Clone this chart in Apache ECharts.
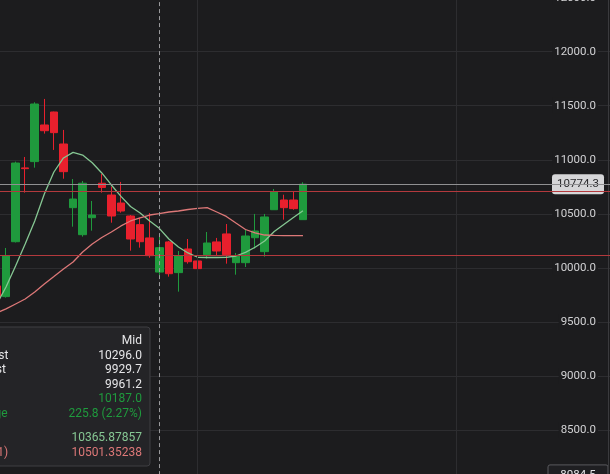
<!DOCTYPE html>
<html><head><meta charset="utf-8">
<script src="https://cdn.jsdelivr.net/npm/echarts@6/dist/echarts.min.js"></script>
<style>html,body{margin:0;padding:0;background:#1c1c1e;overflow:hidden}#c{width:610px;height:474px;}</style>
</head><body><div id="c"></div>
<script>
// ---- data ----
const categories = ['1','2','3','4','5','6','7','8','9','10','11','12','13','14','15','16','17','18','19','20','21','22','23','24','25','26','27','28','29','30','31','32','33'];
const emptySlots = 32; // empty future slots to the right of the last candle
const opens  = [9833, 9734, 10242, 10925, 10983, 11322, 11442, 11146, 10557, 10307, 10464, 10783, 10674, 10600, 10480, 10400, 10277, 9961.2, 10240, 9956, 10175, 10064, 10122, 10240, 10314, 10048, 10048, 10279, 10150, 10538, 10628, 10628, 10446];
const closes = [9734, 10113, 10970, 10918, 11516, 11269, 11251, 10890, 10637, 10783, 10489, 10744, 10480, 10526, 10267, 10242, 10113, 10187.0, 9946, 10113, 10057, 9993, 10230, 10156, 10122, 10113, 10295, 10341, 10471, 10705, 10557, 10548, 10774.3];
const highs  = [9850, 10184, 10983, 11026, 11532, 11563, 11445, 11276, 10822, 10804, 10619, 10869, 10751, 10795, 10489, 10464, 10508, 10296.0, 10249, 10156, 10267, 10249, 10332, 10277, 10406, 10138, 10351, 10499, 10499, 10730, 10677, 10705, 10792];
const lows   = [9715, 9725, 10235, 10696, 10927, 11242, 11091, 10825, 10381, 10289, 10344, 10696, 10418, 10511, 10159, 10187, 10094, 9929.7, 9919, 9780, 10039, 9817, 10085, 10119, 10039, 9937, 10008, 10178, 10104, 10538, 10446, 10538, 10446];
const maShort = [9657, 9823, 10018, 10221, 10434, 10684, 10887, 11017, 11069, 11044, 10973, 10878, 10767, 10661, 10568, 10508, 10434, 10365.87857, 10267, 10193, 10138, 10098, 10096, 10096, 10098, 10110, 10144, 10191, 10249, 10337, 10402, 10466, 10529];
const maLong  = [9583, 9620, 9666, 9712, 9777, 9851, 9920, 9990, 10055, 10147, 10221, 10281, 10332, 10388, 10434, 10462, 10489, 10501.35238, 10517, 10526, 10540, 10551, 10557, 10517, 10476, 10415, 10355, 10323, 10304, 10300, 10298, 10298, 10298];
const yMin = 7500, yMax = 13000, yInterval = 500;
const xGridIndices = [21, 48];
const lastPrice = 10774.3;
const refLines = [10707, 10119];
const hoverIndex = 17;
const pointerValue = 8084.5;
const maNames = ['MA(7)', 'MA(21)'];

// ---- colours ----
const BG = '#1c1c1e', GRID = '#2d2d30', UP = '#1f9a3d', DOWN = '#e8202d';
const MA1 = '#86c793', MA2 = '#dd7878', FONT = 'Roboto';

const xData = categories.concat(new Array(emptySlots).fill(''));
const kData = opens.map((o, i) => [o, closes[i], lows[i], highs[i]]);

const chart = echarts.init(document.getElementById('c'), null, {renderer: 'canvas'});
chart.setOption({
  backgroundColor: BG,
  animation: false,
  grid: {left: -8.37, right: -4.3, top: -56.4, bottom: -64.1, containLabel: false, outerBoundsMode: 'none'},
  xAxis: {type: 'category', data: xData, boundaryGap: true,
    axisLine: {show: false}, axisTick: {show: false}, axisLabel: {show: false}, splitLine: {show: false}},
  yAxis: {type: 'value', position: 'right', offset: -6.3, min: yMin, max: yMax, interval: yInterval, scale: true,
    axisLine: {show: true, lineStyle: {color: '#3a3a3d'}}, axisTick: {show: false},
    splitLine: {lineStyle: {color: GRID, width: 1}},
    axisLabel: {inside: true, margin: 10, color: '#d2d2d4', fontFamily: FONT, fontSize: 11.5,
      backgroundColor: BG, padding: [2, 2],
      formatter: v => v.toFixed(1)}},
  series: [
    {type: 'line', data: [], z: 1, silent: true,
      markLine: {silent: true, symbol: 'none', label: {show: false}, animation: false,
        lineStyle: {color: GRID, type: 'solid', width: 1},
        data: xGridIndices.map(i => ({xAxis: i}))}},
    {type: 'candlestick', data: kData, barWidth: 8, z: 3,
      itemStyle: {color: UP, color0: DOWN, borderColor: UP, borderColor0: DOWN, borderWidth: 1}},
    {type: 'line', data: maShort, symbol: 'none', z: 4, lineStyle: {color: MA1, width: 1.3}},
    {type: 'line', data: maLong, symbol: 'none', z: 4, lineStyle: {color: MA2, width: 1.3}},
    {type: 'line', data: [], z: 5, silent: true,
      markLine: {silent: true, symbol: 'none', label: {show: false}, animation: false,
        data: [
          {yAxis: lastPrice, lineStyle: {color: '#909092', type: 'solid', width: 1}},
          ...refLines.map(v => ({yAxis: v, lineStyle: {color: '#b3393d', type: 'solid', width: 1}})),
          {xAxis: hoverIndex, lineStyle: {color: '#9a9a9c', type: [4, 3], width: 1}}
        ]}}
  ]
});

// overlays positioned through the chart's own scales
const yLast = chart.convertToPixel({yAxisIndex: 0}, lastPrice);
const yPtr = chart.convertToPixel({yAxisIndex: 0}, pointerValue);
const fmt = v => v.toFixed(1);
const chg = closes[hoverIndex] - opens[hoverIndex];
const chgPct = chg / opens[hoverIndex] * 100;
const upCol = closes[hoverIndex] >= opens[hoverIndex] ? UP : DOWN;
const rows = [
  ['Highest', fmt(highs[hoverIndex]), '#e6e6e8'],
  ['Lowest', fmt(lows[hoverIndex]), '#e6e6e8'],
  ['Open', fmt(opens[hoverIndex]), '#e6e6e8'],
  ['Close', fmt(closes[hoverIndex]), upCol],
  ['Change', fmt(chg) + ' (' + chgPct.toFixed(2) + '%)', upCol]
];
const tipX0 = -62, tipY0 = 327, tipW = 212, tipH = 139;
const tipChildren = [
  {type: 'rect', shape: {x: tipX0, y: tipY0, width: tipW, height: tipH, r: 3},
    style: {fill: '#242427', stroke: '#3e3e42', lineWidth: 1}},
  {type: 'text', style: {text: 'Mid', x: 142, y: 341, textAlign: 'right', textVerticalAlign: 'middle',
    fill: '#e6e6e8', fontSize: 12, fontFamily: FONT}}
];
rows.forEach((r, i) => {
  const y = 355.5 + i * 14.5;
  tipChildren.push({type: 'text', style: {text: r[0], x: -33, y, textAlign: 'left', textVerticalAlign: 'middle', fill: r[2], fontSize: 12, fontFamily: FONT}});
  tipChildren.push({type: 'text', style: {text: r[1], x: 142, y, textAlign: 'right', textVerticalAlign: 'middle', fill: r[2], fontSize: 12, fontFamily: FONT}});
});
[[maNames[0], maShort[hoverIndex], MA1, -37], [maNames[1], maLong[hoverIndex], MA2, -32]].forEach((r, i) => {
  const y = 438 + i * 14.5;
  tipChildren.push({type: 'text', style: {text: r[0], x: r[3], y, textAlign: 'left', textVerticalAlign: 'middle', fill: r[2], fontSize: 12, fontFamily: FONT}});
  tipChildren.push({type: 'text', style: {text: r[1].toFixed(5), x: 142, y, textAlign: 'right', textVerticalAlign: 'middle', fill: r[2], fontSize: 12, fontFamily: FONT}});
});

chart.setOption({
  graphic: [
    {type: 'group', z: 100, children: [
      {type: 'rect', shape: {x: 552, y: yLast - 10, width: 52, height: 20, r: 3}, style: {fill: '#d6d6d8'}},
      {type: 'text', style: {text: fmt(lastPrice), x: 578, y: yLast, textAlign: 'center', textVerticalAlign: 'middle', fill: '#2a2a2c', fontSize: 11.5, fontFamily: FONT}},
      {type: 'rect', shape: {x: 548, y: yPtr - 10, width: 60, height: 20, r: 2}, style: {fill: '#1f1f22', stroke: '#5a5a5e', lineWidth: 1}},
      {type: 'text', style: {text: fmt(pointerValue), x: 578, y: yPtr, textAlign: 'center', textVerticalAlign: 'middle', fill: '#e4e4e6', fontSize: 11.5, fontFamily: FONT}}
    ]},
    {type: 'group', z: 101, children: tipChildren}
  ]
});
</script>
</body></html>
